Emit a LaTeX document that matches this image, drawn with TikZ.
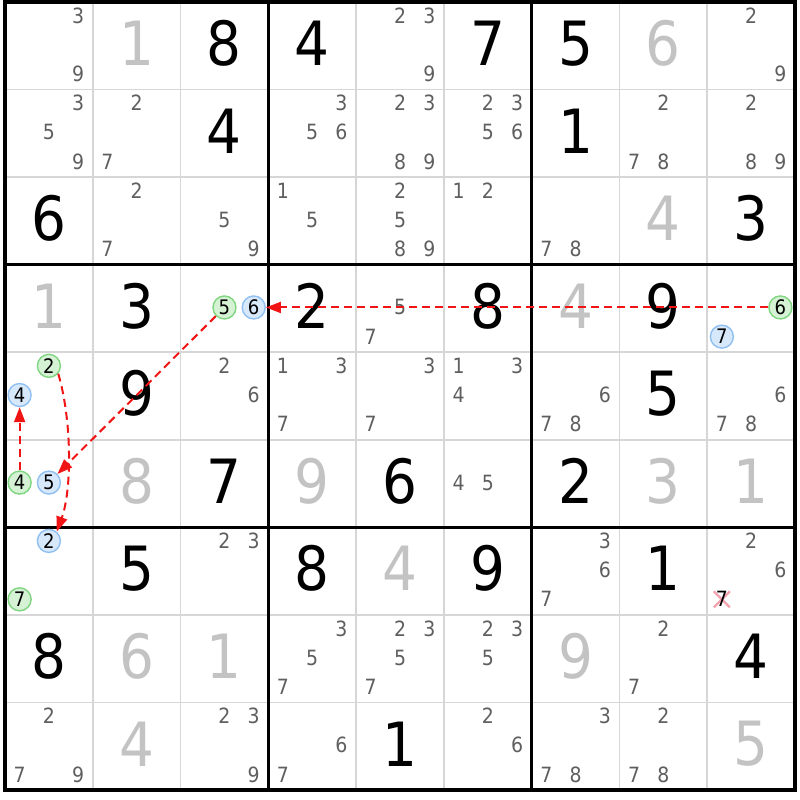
\documentclass[tikz,border=0pt]{standalone}
\usepackage{fontspec}
\setmainfont{DejaVu Sans Condensed}
\usetikzlibrary{arrows.meta}
\definecolor{candc}{HTML}{5F5F5F}
\definecolor{solc}{HTML}{C3C3C3}
\definecolor{gridc}{HTML}{D6D6D6}
\definecolor{gfill}{HTML}{D5F2D5}
\definecolor{gline}{HTML}{80D680}
\definecolor{bfill}{HTML}{D6E8FA}
\definecolor{bline}{HTML}{90C0F2}
\definecolor{arrc}{HTML}{F01414}
\definecolor{xc}{HTML}{F4A3AE}
\newcommand\CW{87.78}
\newcommand\CH{87.56}
\tikzset{
  bigd/.style={font=\fontsize{61}{61}\selectfont, inner sep=0pt},
  givd/.style={bigd, text=black},
  sold/.style={bigd, text=solc},
  cand/.style={font=\fontsize{21}{21}\selectfont, text=candc, inner sep=0pt},
  mark7/.style={font=\fontsize{21}{21}\selectfont, text=black, inner sep=0pt},
  circg/.style={circle, draw=gline, fill=gfill, line width=1.4pt, minimum size=23pt, inner sep=0pt, font=\fontsize{20}{20}\selectfont, text=black},
  circb/.style={circle, draw=bline, fill=bfill, line width=1.4pt, minimum size=23pt, inner sep=0pt, font=\fontsize{20}{20}\selectfont, text=black},
  link/.style={draw=arrc, line width=2pt, dash pattern=on 8pt off 5pt, -{Triangle[length=15pt,width=11pt]}},
  thin/.style={draw=gridc, line width=1.8pt},
  thick/.style={draw=black, line width=3pt},
}
\newcommand\Given[3]{\node[givd] (v-#1-#2) at ({5+\CW*(#2+0.5)},{-0.5+\CH*(#1+0.5)}) {#3};}
\newcommand\Solved[3]{\node[sold] (v-#1-#2) at ({5+\CW*(#2+0.5)},{-0.5+\CH*(#1+0.5)}) {#3};}
\newcommand\Cands[3]{\foreach \d in {#3}{%
  \pgfmathtruncatemacro\sx{mod(\d-1,3)}%
  \pgfmathtruncatemacro\sy{int((\d-1)/3)}%
  \node[cand] (k-#1-#2-\d) at ({5+\CW*(#2+(2*\sx+1)/6)},{1+\CH*(#1+(2*\sy+1)/6)}) {\d};}}
\newcommand\Circ[5]{%
  \pgfmathtruncatemacro\sx{mod(#4-1,3)}%
  \pgfmathtruncatemacro\sy{int((#4-1)/3)}%
  \node[#5] (#1) at ({5+\CW*(#3+(2*\sx+1)/6)},{1+\CH*(#2+(2*\sy+1)/6)}) {#4};}
\begin{document}
\begin{tikzpicture}[x=1pt,y=-1pt]
\useasboundingbox (0,0) rectangle (800,800);
\fill[white] (0,0) rectangle (800,800);
% thin grid
\foreach \i in {1,2,4,5,7,8}{
  \draw[thin] ({5+\CW*\i},2) -- ({5+\CW*\i},{2+9*\CH});
  \draw[thin] (5,{2+\CH*\i}) -- ({5+9*\CW},{2+\CH*\i});
}
\foreach \i in {3,6}{
  \draw[thick] ({5+\CW*\i},2) -- ({5+\CW*\i},{2+9*\CH});
  \draw[thick] (5,{2+\CH*\i}) -- ({5+9*\CW},{2+\CH*\i});
}
\draw[thick, line width=3.5pt] (5,2) rectangle ({5+9*\CW},{2+9*\CH});
% given digits
\Given{0}{2}{8}\Given{0}{3}{4}\Given{0}{5}{7}\Given{0}{6}{5}
\Given{1}{2}{4}\Given{1}{6}{1}
\Given{2}{0}{6}\Given{2}{8}{3}
\Given{3}{1}{3}\Given{3}{3}{2}\Given{3}{5}{8}\Given{3}{7}{9}
\Given{4}{1}{9}\Given{4}{7}{5}
\Given{5}{2}{7}\Given{5}{4}{6}\Given{5}{6}{2}
\Given{6}{1}{5}\Given{6}{3}{8}\Given{6}{5}{9}\Given{6}{7}{1}
\Given{7}{0}{8}\Given{7}{8}{4}
\Given{8}{4}{1}
% solved digits
\Solved{0}{1}{1}\Solved{0}{7}{6}\Solved{2}{7}{4}
\Solved{3}{0}{1}\Solved{3}{6}{4}
\Solved{5}{1}{8}\Solved{5}{3}{9}\Solved{5}{7}{3}\Solved{5}{8}{1}
\Solved{6}{4}{4}
\Solved{7}{1}{6}\Solved{7}{2}{1}\Solved{7}{6}{9}
\Solved{8}{1}{4}\Solved{8}{8}{5}
% candidates
\Cands{0}{0}{3,9}\Cands{0}{4}{2,3,9}\Cands{0}{8}{2,9}
\Cands{1}{0}{3,5,9}\Cands{1}{1}{2,7}\Cands{1}{3}{3,5,6}\Cands{1}{4}{2,3,8,9}
\Cands{1}{5}{2,3,5,6}\Cands{1}{7}{2,7,8}\Cands{1}{8}{2,8,9}
\Cands{2}{1}{2,7}\Cands{2}{2}{5,9}\Cands{2}{3}{1,5}\Cands{2}{4}{2,5,8,9}
\Cands{2}{5}{1,2}\Cands{2}{6}{7,8}
\Cands{3}{4}{5,7}
\Cands{4}{2}{2,6}\Cands{4}{3}{1,3,7}\Cands{4}{4}{3,7}\Cands{4}{5}{1,3,4}
\Cands{4}{6}{6,7,8}\Cands{4}{8}{6,7,8}
\Cands{5}{5}{4,5}
\Cands{6}{2}{2,3}\Cands{6}{6}{3,6,7}\Cands{6}{8}{2,6}
\Cands{7}{3}{3,5,7}\Cands{7}{4}{2,3,5,7}\Cands{7}{5}{2,3,5}\Cands{7}{7}{2,7}
\Cands{8}{0}{2,7,9}\Cands{8}{2}{2,3,9}\Cands{8}{3}{6,7}\Cands{8}{5}{2,6}
\Cands{8}{6}{3,7,8}\Cands{8}{7}{2,7,8}
% eliminated candidate
\coordinate (xm) at ({5+\CW*(8+1/6)},{1+\CH*(6+5/6)});
\draw[xc, line width=2.4pt] ([shift={(-8,-8)}]xm) -- ([shift={(8,8)}]xm)
  ([shift={(-8,8)}]xm) -- ([shift={(8,-8)}]xm);
\node[mark7] (k-6-8-7) at (xm) {7};
% highlighted candidates
\Circ{g5}{3}{2}{5}{circg}\Circ{b6}{3}{2}{6}{circb}
\Circ{g6}{3}{8}{6}{circg}\Circ{b7}{3}{8}{7}{circb}
\Circ{g2}{4}{0}{2}{circg}\Circ{b4}{4}{0}{4}{circb}
\Circ{g4}{5}{0}{4}{circg}\Circ{b5}{5}{0}{5}{circb}
\Circ{g7}{6}{0}{7}{circg}\Circ{b2}{6}{0}{2}{circb}
% links
\draw[link] (g6) -- (b6);
\draw[link] (g5) -- (b5);
\draw[link] (g2.-40) .. controls (72,420) and (72,490) .. (b2.50);
\draw[link] (g4) -- (b4);
\end{tikzpicture}
\end{document}
